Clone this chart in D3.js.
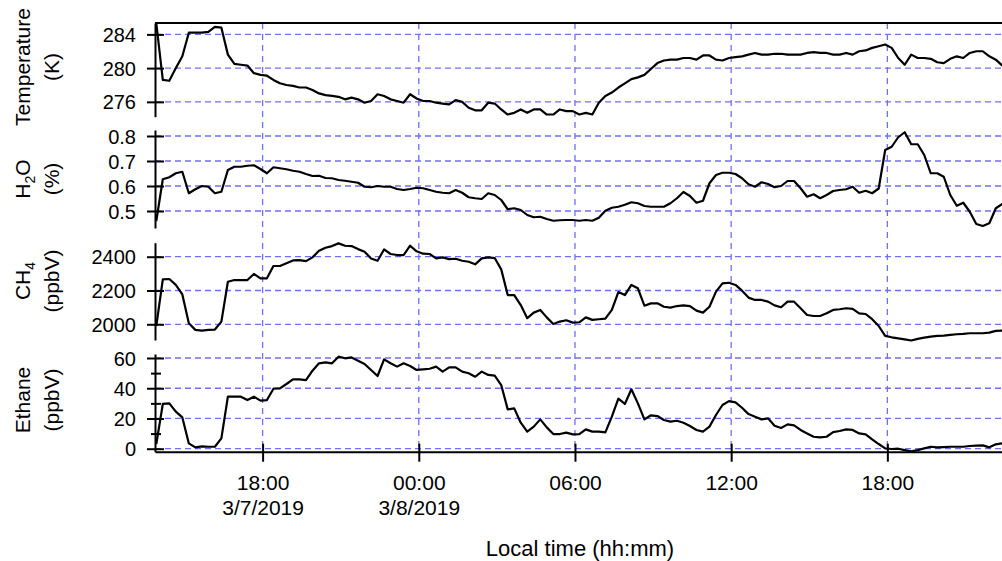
<!DOCTYPE html>
<html>
<head>
<meta charset="utf-8">
<script src="https://cdn.jsdelivr.net/npm/d3@7"></script>
<style>
  html, body { margin: 0; padding: 0; background: #ffffff; }
  svg { display: block; font-family: "Liberation Sans", Arial, sans-serif; }
</style>
</head>
<body>
<svg id="chart" width="1002" height="561"></svg>
<script>
// Sampling: one averaged value every 15 minutes, starting 3/7/2019 13:55 local time
const sampleStart = new Date(2019, 2, 7, 13, 55);
const sampleStepMinutes = 15;

const temperature = [
  285.3, 278.6, 278.5, 280.0, 281.4, 284.2, 284.2, 284.2, 284.3, 284.9,
  284.8, 281.6, 280.5, 280.4, 280.3, 279.4, 279.2, 279.1, 278.6, 278.2,
  278.0, 277.9, 277.7, 277.7, 277.4, 277.0, 276.8, 276.7, 276.6, 276.3,
  276.5, 276.3, 275.9, 276.1, 276.9, 276.7, 276.3, 276.1, 275.9, 276.9,
  276.4, 276.1, 276.1, 275.9, 275.8, 275.7, 276.2, 276.0, 275.3, 275.0,
  275.0, 275.9, 275.8, 275.1, 274.5, 274.7, 275.1, 274.7, 275.1, 275.1,
  274.5, 274.5, 275.1, 274.9, 274.9, 274.5, 274.7, 274.5, 275.9, 276.7,
  277.1, 277.7, 278.2, 278.7, 278.9, 279.2, 279.9, 280.6, 280.9, 281.0,
  281.0, 281.2, 281.2, 281.0, 281.5, 281.5, 281.0, 280.9, 281.2, 281.3,
  281.4, 281.6, 281.8, 281.6, 281.6, 281.7, 281.7, 281.6, 281.6, 281.6,
  281.8, 281.9, 281.8, 281.8, 281.6, 281.6, 281.8, 281.6, 282.0, 282.1,
  282.4, 282.6, 282.8, 282.4, 281.2, 280.4, 281.6, 281.2, 281.2, 281.1,
  280.7, 280.6, 281.1, 281.4, 281.2, 281.8, 282.0, 282.0, 281.4, 281.0,
  280.3
];

const water = [
  0.460, 0.627, 0.635, 0.651, 0.657, 0.571, 0.587, 0.600, 0.597, 0.571,
  0.577, 0.664, 0.677, 0.677, 0.681, 0.683, 0.668, 0.651, 0.675, 0.671,
  0.667, 0.661, 0.657, 0.648, 0.640, 0.641, 0.632, 0.631, 0.624, 0.621,
  0.617, 0.613, 0.597, 0.595, 0.600, 0.597, 0.597, 0.588, 0.584, 0.588,
  0.593, 0.591, 0.584, 0.577, 0.573, 0.571, 0.584, 0.573, 0.555, 0.551,
  0.548, 0.571, 0.564, 0.544, 0.507, 0.511, 0.504, 0.484, 0.475, 0.477,
  0.468, 0.461, 0.463, 0.464, 0.464, 0.461, 0.464, 0.461, 0.473, 0.501,
  0.513, 0.517, 0.525, 0.535, 0.531, 0.520, 0.517, 0.517, 0.517, 0.531,
  0.551, 0.576, 0.560, 0.533, 0.541, 0.611, 0.644, 0.653, 0.653, 0.648,
  0.631, 0.607, 0.597, 0.615, 0.608, 0.595, 0.600, 0.620, 0.620, 0.591,
  0.557, 0.567, 0.551, 0.564, 0.580, 0.584, 0.587, 0.597, 0.573, 0.581,
  0.571, 0.590, 0.744, 0.757, 0.795, 0.815, 0.767, 0.767, 0.724, 0.651,
  0.651, 0.637, 0.564, 0.521, 0.533, 0.497, 0.448, 0.440, 0.451, 0.511,
  0.528
];

const methane = [
  1990, 2266, 2268, 2233, 2177, 2006, 1967, 1963, 1967, 1969,
  2016, 2252, 2262, 2262, 2262, 2298, 2272, 2272, 2345, 2345,
  2361, 2378, 2380, 2374, 2396, 2435, 2453, 2463, 2479, 2465,
  2463, 2445, 2430, 2390, 2376, 2443, 2416, 2410, 2410, 2465,
  2432, 2418, 2416, 2390, 2396, 2386, 2388, 2376, 2370, 2355,
  2390, 2396, 2392, 2325, 2173, 2173, 2114, 2036, 2069, 2085,
  2041, 2002, 2016, 2024, 2010, 2012, 2041, 2026, 2030, 2033,
  2085, 2191, 2173, 2233, 2213, 2110, 2124, 2124, 2104, 2099,
  2108, 2112, 2108, 2081, 2069, 2104, 2193, 2242, 2246, 2233,
  2199, 2158, 2144, 2144, 2134, 2112, 2101, 2134, 2134, 2095,
  2055, 2049, 2049, 2065, 2085, 2089, 2095, 2091, 2065, 2061,
  2030, 1990, 1931, 1923, 1917, 1911, 1904, 1914, 1921, 1927,
  1931, 1933, 1937, 1941, 1943, 1947, 1947, 1947, 1951, 1961,
  1963
];

const ethane = [
  3.0, 29.6, 30.0, 24.5, 20.7, 3.5, 0.9, 1.5, 1.3, 1.3,
  6.8, 34.4, 34.4, 34.4, 32.2, 34.4, 31.8, 32.2, 39.7, 39.9,
  42.8, 45.9, 45.9, 45.4, 51.6, 56.5, 57.1, 56.5, 60.9, 59.8,
  60.4, 58.2, 56.0, 52.1, 48.1, 59.1, 56.5, 54.3, 56.5, 54.7,
  52.1, 52.5, 52.9, 54.3, 51.0, 53.8, 53.8, 51.0, 49.9, 47.6,
  51.0, 48.8, 48.3, 42.1, 26.0, 26.7, 17.2, 11.3, 14.6, 19.4,
  14.1, 9.7, 9.7, 10.6, 9.5, 9.7, 12.8, 11.3, 11.3, 10.8,
  21.2, 33.1, 29.6, 39.3, 30.0, 19.4, 22.1, 21.6, 19.0, 17.9,
  18.5, 17.2, 15.0, 12.4, 11.3, 14.6, 22.3, 28.9, 31.5, 30.7,
  27.1, 22.9, 21.2, 19.4, 20.1, 15.2, 13.7, 16.1, 15.4, 12.4,
  10.1, 7.9, 7.5, 7.9, 11.0, 11.7, 12.8, 12.4, 10.1, 9.5,
  6.2, 3.1, 0.2, -0.2, 0.0, -0.9, -1.8, -0.9, 0.2, 1.3,
  0.9, 1.1, 1.3, 1.3, 1.3, 1.8, 2.0, 2.2, 0.9, 2.9,
  3.5
];

// Axis ticks
const temperatureTicks = [276, 280, 284];
const waterTicks = [0.5, 0.6, 0.7, 0.8];
const methaneTicks = [2000, 2200, 2400];
const ethaneTicks = [0, 20, 40, 60];
const ethaneMinorTicks = [10, 30, 50];
const timeTicks = [
  new Date(2019, 2, 7, 18, 0),
  new Date(2019, 2, 8, 0, 0),
  new Date(2019, 2, 8, 6, 0),
  new Date(2019, 2, 8, 12, 0),
  new Date(2019, 2, 8, 18, 0)
];
const timeTickLines = [
  ["18:00", "3/7/2019"],
  ["00:00", "3/8/2019"],
  ["06:00", ""],
  ["12:00", ""],
  ["18:00", ""]
];
const timeDomain = [new Date(2019, 2, 7, 13, 52), new Date(2019, 2, 8, 22, 30)];

const sampleTimes = temperature.map((_, i) =>
  new Date(sampleStart.getTime() + i * sampleStepMinutes * 60000));

// ---------- layout ----------
const svg = d3.select("#chart");
const plotLeft = 155;
const plotRight = 1004.5;
const plotTop = 23;
const plotBottom = 451.7;
const gridColor = "#6f6ff7";

const x = d3.scaleTime().domain(timeDomain).range([plotLeft, plotRight]);

const panels = [
  { key: "T", values: temperature, ticks: temperatureTicks, domain: [274.24, 285.35], range: [116.7, plotTop],
    fmt: d3.format("d"), title: [["Temperature"], ["(K)"]], labelY: 67 },
  { key: "H", values: water, ticks: waterTicks, domain: [0.432, 0.824], range: [228, 130],
    fmt: d3.format(".1f"), title: [[["H", 0], ["2", 1], ["O", 0]], ["(%)"]], labelY: 179 },
  { key: "C", values: methane, ticks: methaneTicks, domain: [1907, 2483], range: [340, 242.7],
    fmt: d3.format("d"), title: [[["CH", 0], ["4", 1]], ["(ppbV)"]], labelY: 281 },
  { key: "E", values: ethane, ticks: ethaneTicks, domain: [-1.98, 62.65], range: [plotBottom, 354],
    fmt: d3.format("d"), title: [["Ethane"], ["(ppbV)"]], labelY: 400 }
];

panels.forEach(p => { p.y = d3.scaleLinear().domain(p.domain).range(p.range); });

// ---------- grid ----------
const grid = svg.append("g").attr("class", "grid")
  .attr("stroke", gridColor).attr("stroke-width", 1.3).attr("fill", "none");

panels.forEach(p => {
  grid.selectAll(null).data(p.ticks).join("line")
    .attr("x1", plotLeft).attr("x2", plotRight)
    .attr("y1", d => p.y(d)).attr("y2", d => p.y(d))
    .attr("stroke-dasharray", "6,4");
});

grid.selectAll(null).data(timeTicks).join("line")
  .attr("x1", d => x(d)).attr("x2", d => x(d))
  .attr("y1", plotTop).attr("y2", plotBottom)
  .attr("stroke-dasharray", "6,5");

// ---------- series ----------
panels.forEach(p => {
  const line = d3.line()
    .x((d, i) => x(sampleTimes[i]))
    .y(d => p.y(d));
  svg.append("path")
    .datum(p.values)
    .attr("fill", "none")
    .attr("stroke", "#000")
    .attr("stroke-width", 2.2)
    .attr("stroke-linejoin", "round")
    .attr("d", line);
});

// ---------- y axes ----------
panels.forEach(p => {
  const g = svg.append("g")
    .attr("transform", `translate(${plotLeft},0)`)
    .call(d3.axisLeft(p.y).tickValues(p.ticks).tickFormat(p.fmt).tickSizeOuter(0));
  g.select(".domain").attr("stroke", "#000").attr("stroke-width", 2);
  g.selectAll(".tick line").attr("x1", 9).attr("x2", -8)
    .attr("stroke", "#000").attr("stroke-width", 2);
  g.selectAll(".tick text").attr("x", -19).attr("dy", "0.35em")
    .attr("font-size", 20).attr("fill", "#000")
    .attr("font-family", "Liberation Sans, Arial, sans-serif");

  if (p.key === "E") {
    const m = svg.append("g")
      .attr("transform", `translate(${plotLeft},0)`)
      .call(d3.axisLeft(p.y).tickValues(ethaneMinorTicks).tickFormat("").tickSizeOuter(0));
    m.select(".domain").remove();
    m.selectAll(".tick line").attr("x1", 6).attr("x2", -4)
      .attr("stroke", "#000").attr("stroke-width", 2);
  }

  // rotated two-line title
  const t = svg.append("text")
    .attr("transform", `translate(0,${p.labelY}) rotate(-90)`)
    .attr("text-anchor", "middle")
    .attr("font-size", 21)
    .attr("fill", "#000");
  p.title.forEach((lineParts, li) => {
    const lineText = t.append("tspan")
      .attr("x", 0)
      .attr("y", li === 0 ? 30 : 59);
    if (typeof lineParts[0] === "string") {
      lineText.text(lineParts[0]);
    } else {
      lineParts.forEach(([s, sub], j) => {
        const prevSub = j > 0 && lineParts[j - 1][1];
        const ts = lineText.append("tspan").text(s);
        if (sub) ts.attr("font-size", 14).attr("dy", 5);
        else if (prevSub) ts.attr("dy", -5);
      });
    }
  });
});

// top frame line
svg.append("line")
  .attr("x1", plotLeft).attr("x2", plotRight)
  .attr("y1", plotTop).attr("y2", plotTop)
  .attr("stroke", "#000").attr("stroke-width", 2);

// ---------- x axis ----------
const xa = svg.append("g")
  .attr("transform", `translate(0,${plotBottom})`)
  .call(d3.axisBottom(x).tickValues(timeTicks).tickFormat("").tickSizeOuter(0));
xa.select(".domain").attr("stroke", "#000").attr("stroke-width", 2);
xa.selectAll(".tick line").attr("y1", -8).attr("y2", 10)
  .attr("stroke", "#000").attr("stroke-width", 2);
xa.selectAll(".tick text").remove();
xa.selectAll(".tick").each(function(d, i) {
  const txt = d3.select(this).append("text")
    .attr("text-anchor", "middle")
    .attr("font-size", 21)
    .attr("fill", "#000")
    .attr("font-family", "Liberation Sans, Arial, sans-serif");
  txt.append("tspan").attr("x", 0).attr("y", 38.5).text(timeTickLines[i][0]);
  if (timeTickLines[i][1]) {
    txt.append("tspan").attr("x", 0).attr("y", 63.5).text(timeTickLines[i][1]);
  }
});

svg.append("text")
  .attr("x", 580).attr("y", 555.5)
  .attr("text-anchor", "middle")
  .attr("font-size", 22)
  .attr("fill", "#000")
  .text("Local time (hh:mm)");
</script>
</body>
</html>
